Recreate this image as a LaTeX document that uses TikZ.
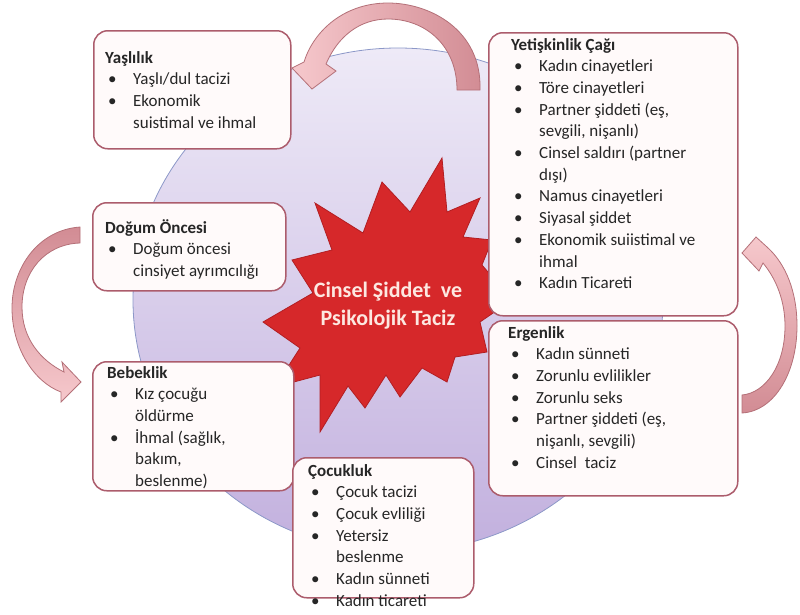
\documentclass[tikz,border=0pt]{standalone}
\usepackage{fontspec}
\setmainfont{Carlito}
\definecolor{boxborder}{RGB}{172,92,108}
\definecolor{boxfill}{RGB}{255,250,250}
\definecolor{txtgray}{RGB}{38,38,38}
\definecolor{circtop}{RGB}{238,234,247}
\definecolor{circbot}{RGB}{194,176,222}
\definecolor{circline}{RGB}{140,152,200}
\definecolor{starred}{RGB}{214,40,42}
\definecolor{stardark}{RGB}{178,30,34}
\definecolor{startext}{RGB}{253,232,225}
\definecolor{arrlight}{RGB}{246,200,204}
\definecolor{arrdark}{RGB}{210,140,148}
\definecolor{arrline}{RGB}{180,112,120}
\newcommand{\bl}{\makebox[28pt][l]{\hspace{3pt}\textbullet}}
\newcommand{\ind}{\hspace*{28pt}}
\tikzset{
  box/.style={draw=boxborder, fill=boxfill, line width=1.5pt, rounded corners=14pt,
    inner sep=0pt, anchor=north west},
  txt/.style={anchor=base west, inner sep=0pt, text=txtgray,
    font=\fontsize{17}{21.7}\selectfont},
  blockarrow/.style={draw=arrline, line width=0.8pt},
}
\begin{document}
\begin{tikzpicture}[x=1pt,y=-1pt]
\path[use as bounding box] (0,0) rectangle (800,614);

% background disc
\draw[top color=circtop, bottom color=circbot, draw=circline, line width=0.8pt]
  (398,300) ellipse [x radius=265pt, y radius=252pt];

% top curved arrow (Yetiskinlik -> Yaslilik)
\draw[blockarrow, left color=arrlight, right color=arrdark]
  (480,90) .. controls (482,30) and (430,3) .. (388,3)
  .. controls (345,3) and (314,30) .. (304,62)
  -- (292,68) -- (312,89) -- (336,71) -- (326,64)
  .. controls (338,36) and (360,19) .. (388,19)
  .. controls (425,19) and (457,45) .. (457,90) -- cycle;

% left curved arrow (Dogum Oncesi -> Bebeklik)
\draw[blockarrow, top color=arrdark, bottom color=arrlight]
  (80,227) .. controls (38,230) and (12,268) .. (12,308)
  .. controls (12,348) and (34,382) .. (61,392)
  -- (61,402) -- (81,382) -- (62,362) -- (64,372)
  .. controls (40,360) and (22,338) .. (22,307)
  .. controls (22,272) and (45,244) .. (80,243) -- cycle;

% right curved arrow (Ergenlik -> Yetiskinlik)
\draw[blockarrow, top color=arrlight, bottom color=arrdark]
  (742,413) .. controls (775,411) and (797,372) .. (797,326)
  .. controls (797,292) and (786,264) .. (767,247)
  -- (756,237) -- (742,253) -- (759,271) -- (763,263)
  .. controls (777,280) and (785,302) .. (785,326)
  .. controls (785,366) and (765,393) .. (742,395) -- cycle;

% central explosion
\draw[fill=starred, draw=stardark, line width=0.8pt]
  (442,158) -- (447,212) -- (480,198) -- (463,237) -- (492,240) -- (482,265)
  -- (512,300) -- (480,322) -- (487,352) -- (455,357) -- (447,382) -- (422,368)
  -- (400,397) -- (386,375) -- (365,408) -- (348,386) -- (320,432) -- (320,375)
  -- (275,387) -- (300,348) -- (263,322) -- (313,293) -- (292,260) -- (332,250)
  -- (315,203) -- (363,233) -- (382,182) -- (410,212) -- cycle;
\node[align=center, text=startext, inner sep=0pt,
  font=\fontsize{22}{28}\selectfont\bfseries] (center) at (388,306)
  {Cinsel Şiddet\ \ ve\\Psikolojik Taciz};

% boxes
\node[box, minimum width=197pt, minimum height=118pt] (yas) at (93,30) {};
\node[box, minimum width=249pt, minimum height=283pt] (yet) at (488,32) {};
\node[box, minimum width=193pt, minimum height=88pt] (dog) at (92,202) {};
\node[box, minimum width=201pt, minimum height=129pt] (beb) at (92,361) {};
\node[box, minimum width=181pt, minimum height=140pt] (coc) at (292,457) {};
\node[box, minimum width=249pt, minimum height=175pt] (erg) at (488,320) {};

% texts
\node[txt] (yastxt) at (105,63) {\begin{tabular}[t]{@{}l@{}}
\textbf{Yaşlılık}\\
\bl Yaşlı/dul tacizi\\
\bl Ekonomik\\
\ind suistimal ve ihmal
\end{tabular}};

\node[txt] (yettxt) at (511,50) {\begin{tabular}[t]{@{}l@{}}
\textbf{Yetişkinlik Çağı}\\
\bl Kadın cinayetleri\\
\bl Töre cinayetleri\\
\bl Partner şiddeti (eş,\\
\ind sevgili, nişanlı)\\
\bl Cinsel saldırı (partner\\
\ind dışı)\\
\bl Namus cinayetleri\\
\bl Siyasal şiddet\\
\bl Ekonomik suiistimal ve\\
\ind ihmal\\
\bl Kadın Ticareti
\end{tabular}};

\node[txt] (dogtxt) at (105,233) {\begin{tabular}[t]{@{}l@{}}
\textbf{Doğum Öncesi}\\
\bl Doğum öncesi\\
\ind cinsiyet ayrımcılığı
\end{tabular}};

\node[txt] (bebtxt) at (107,378) {\begin{tabular}[t]{@{}l@{}}
\textbf{Bebeklik}\\
\bl Kız çocuğu\\
\ind öldürme\\
\bl İhmal (sağlık,\\
\ind bakım,\\
\ind beslenme)
\end{tabular}};

\node[txt] (coctxt) at (308,476) {\begin{tabular}[t]{@{}l@{}}
\textbf{Çocukluk}\\
\bl Çocuk tacizi\\
\bl Çocuk evliliği\\
\bl Yetersiz\\
\ind beslenme\\
\bl Kadın sünneti\\
\bl Kadın ticareti
\end{tabular}};

\node[txt] (ergtxt) at (508,338) {\begin{tabular}[t]{@{}l@{}}
\textbf{Ergenlik}\\
\bl Kadın sünneti\\
\bl Zorunlu evlilikler\\
\bl Zorunlu seks\\
\bl Partner şiddeti (eş,\\
\ind nişanlı, sevgili)\\
\bl Cinsel\ \ taciz
\end{tabular}};
\end{tikzpicture}
\end{document}
